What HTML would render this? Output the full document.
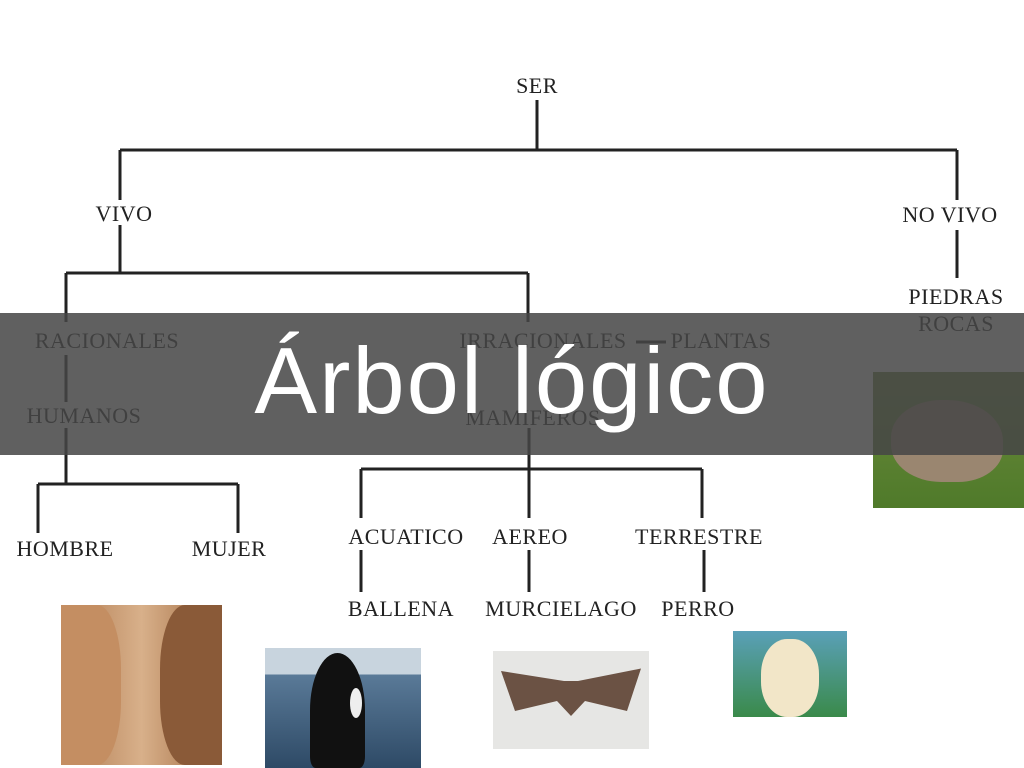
<!DOCTYPE html>
<html><head><meta charset="utf-8"><style>
html,body{margin:0;padding:0;}
body{width:1024px;height:768px;position:relative;overflow:hidden;background:#fff;font-family:"Liberation Serif",serif;}
.t{position:absolute;font-size:22px;letter-spacing:0.5px;color:#222;white-space:nowrap;transform:translate(-50%,-50%);}
svg{position:absolute;left:0;top:0;}
.img{position:absolute;overflow:hidden;}
#banner{position:absolute;left:0;top:313px;width:1024px;height:142px;background:rgba(70,70,70,0.86);}
#title{position:absolute;left:0;top:310px;width:1024px;height:142px;text-align:center;line-height:142px;color:#fff;font-family:"Liberation Sans",sans-serif;font-size:94px;letter-spacing:2px;}
</style></head><body>
<svg width="1024" height="768" stroke="#222" stroke-width="3" fill="none">
<path d="M537 100V150M120 150H957M120 150V200M957 150V200"/>
<path d="M120 225V273M66 273H528M66 273V322M528 273V322M957 230V278"/>
<path d="M66 355V402M66 428V484M38 484H238M38 484V533M238 484V533"/>
<path d="M636 342H666M529 428V469M361 469H702M361 469V518M529 469V518M702 469V518"/>
<path d="M361 550V592M529 550V592M704 550V592"/>
</svg>
<div class="t" style="left:537px;top:86px">SER</div>
<div class="t" style="left:124px;top:214px">VIVO</div>
<div class="t" style="left:950px;top:215px">NO VIVO</div>
<div class="t" style="left:956px;top:297px">PIEDRAS</div>
<div class="t" style="left:956px;top:324px">ROCAS</div>
<div class="t" style="left:107px;top:341px">RACIONALES</div>
<div class="t" style="left:543px;top:341px">IRRACIONALES</div>
<div class="t" style="left:721px;top:341px">PLANTAS</div>
<div class="t" style="left:84px;top:416px">HUMANOS</div>
<div class="t" style="left:533px;top:418px">MAMIFEROS</div>
<div class="t" style="left:65px;top:549px">HOMBRE</div>
<div class="t" style="left:229px;top:549px">MUJER</div>
<div class="t" style="left:406px;top:537px">ACUATICO</div>
<div class="t" style="left:530px;top:537px">AEREO</div>
<div class="t" style="left:699px;top:537px">TERRESTRE</div>
<div class="t" style="left:401px;top:609px">BALLENA</div>
<div class="t" style="left:561px;top:609px">MURCIELAGO</div>
<div class="t" style="left:698px;top:609px">PERRO</div>

<div class="img" style="left:873px;top:372px;width:151px;height:136px;background:linear-gradient(#6d8a3c,#4f7a2a)">
<div style="position:absolute;left:18px;top:28px;width:112px;height:82px;border-radius:45% 50% 40% 45%;background:#9a8670"></div></div>
<div class="img" style="left:61px;top:605px;width:161px;height:160px;background:linear-gradient(90deg,#b07a50,#d8b08a 50%,#a06a40)">
<div style="position:absolute;left:0;top:0;width:60px;height:160px;background:#c48e62;border-radius:0 40% 40% 0"></div>
<div style="position:absolute;right:0;top:0;width:62px;height:160px;background:#8a5a38;border-radius:40% 0 0 40%"></div></div>
<div class="img" style="left:265px;top:648px;width:156px;height:120px;background:linear-gradient(#c8d4de 0,#c8d4de 22%,#5a7a98 22%,#2e4a66)">
<div style="position:absolute;left:45px;top:5px;width:55px;height:115px;background:#111;border-radius:50% 50% 10% 10%"></div>
<div style="position:absolute;left:85px;top:40px;width:12px;height:30px;background:#eee;border-radius:50%"></div></div>
<div class="img" style="left:493px;top:651px;width:156px;height:98px;background:#e6e6e4">
<div style="position:absolute;left:8px;top:15px;width:140px;height:50px;background:#6b5244;clip-path:polygon(0 10%,45% 30%,55% 30%,100% 5%,90% 90%,60% 70%,50% 100%,40% 70%,10% 90%)"></div></div>
<div class="img" style="left:733px;top:631px;width:114px;height:86px;background:linear-gradient(#5aa0b8,#3a8a4a)">
<div style="position:absolute;left:28px;top:8px;width:58px;height:78px;background:#f2e6c8;border-radius:45%"></div></div>

<div id="banner"></div>
<div id="title">Árbol lógico</div>
</body></html>
